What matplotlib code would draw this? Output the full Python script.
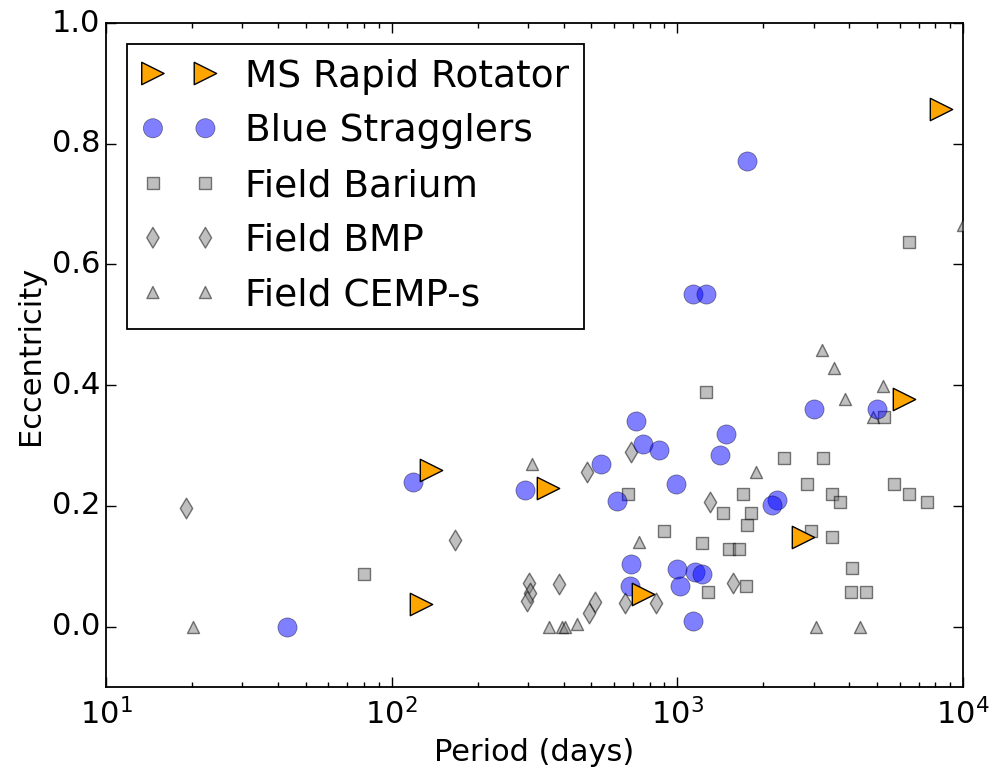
import numpy as np
import matplotlib
matplotlib.use('Agg')
import matplotlib.pyplot as plt

# MS rapid rotators
ms_period = [137, 352, 127, 759, 2760, 6210, 8380]
ms_ecc = [0.26, 0.229, 0.038, 0.055, 0.148, 0.378, 0.857]

# Blue stragglers
bss_period = [43, 119, 293, 540, 615, 716, 758, 862, 989, 688, 682, 997, 1021,
              1134, 1152, 1218, 1134, 1259, 1752, 1479, 1409, 2232, 2143, 3006, 4996]
bss_ecc = [0.0, 0.239, 0.227, 0.269, 0.209, 0.34, 0.302, 0.292, 0.237, 0.104, 0.068,
           0.095, 0.068, 0.01, 0.09, 0.088, 0.551, 0.551, 0.771, 0.32, 0.285, 0.21,
           0.202, 0.361, 0.36]

# Field barium stars
ba_period = [80, 671, 897, 1218, 1259, 1279, 1445, 1516, 1643, 1697, 1752, 1809, 1739,
             2362, 2842, 2935, 3232, 3475, 3707, 3475, 4083, 4053, 4573, 5285, 5728,
             6465, 7474, 6465]
ba_ecc = [0.088, 0.22, 0.158, 0.139, 0.388, 0.058, 0.189, 0.128, 0.128, 0.22, 0.169,
          0.189, 0.068, 0.279, 0.237, 0.158, 0.279, 0.22, 0.207, 0.148, 0.098, 0.058,
          0.058, 0.348, 0.237, 0.22, 0.207, 0.638]

# Field BMP stars
bmp_period = [19.05, 166.5, 302, 306, 298, 385, 490, 515, 483, 688, 656, 841, 1300, 1565]
bmp_ecc = [0.196, 0.144, 0.073, 0.056, 0.043, 0.071, 0.022, 0.041, 0.257, 0.29, 0.04,
           0.04, 0.206, 0.073]

# Field CEMP-s stars
cemp_period = [20.2, 310, 355, 394, 403, 445, 734, 1884, 3055, 4355, 3207, 3532, 3861,
               5243, 4837, 10000]
cemp_ecc = [0.0, 0.27, 0.0, 0.0, 0.0, 0.005, 0.141, 0.257, 0.0, 0.0, 0.458, 0.428,
            0.377, 0.398, 0.347, 0.665]

plt.style.use('classic')
plt.rcParams['figure.facecolor'] = 'white'
plt.rcParams['savefig.facecolor'] = 'white'

fig = plt.figure(figsize=(9.92, 7.72), dpi=100)
ax = fig.add_axes([0.1069, 0.110, 0.8639, 0.8602])

ax.scatter(ms_period, ms_ecc, marker='>', s=260, c='orange', edgecolors='k',
           linewidths=1.0, label='MS Rapid Rotator', zorder=5)
ax.scatter(bss_period, bss_ecc, marker='o', s=190, c='blue', alpha=0.5,
           edgecolors='k', linewidths=0.5, label='Blue Stragglers', zorder=4)
ax.scatter(ba_period, ba_ecc, marker='s', s=75, c='gray', alpha=0.5,
           edgecolors='k', linewidths=1.0, label='Field Barium', zorder=3)
ax.scatter(bmp_period, bmp_ecc, marker='d', s=110, c='gray', alpha=0.5,
           edgecolors='k', linewidths=1.0, label='Field BMP', zorder=3)
ax.scatter(cemp_period, cemp_ecc, marker='^', s=75, c='gray', alpha=0.5,
           edgecolors='k', linewidths=1.0, label='Field CEMP-s', zorder=3)

ax.set_xscale('log')
ax.set_xlim(10, 1e4)
ax.set_ylim(-0.1, 1.0)
ax.set_yticks([0.0, 0.2, 0.4, 0.6, 0.8, 1.0])

ax.set_xlabel('Period (days)', fontsize=22)
ax.set_ylabel('Eccentricity', fontsize=22)
ax.tick_params(axis='both', which='major', labelsize=22, length=7, width=1)
ax.tick_params(axis='both', which='minor', length=3.5, width=1)
ax.tick_params(axis='x', which='major', pad=8)
for sp in ax.spines.values():
    sp.set_linewidth(1.3)

leg = ax.legend(loc='upper left', scatterpoints=2, fontsize=27,
                scatteryoffsets=[0.5], borderaxespad=0.55, handletextpad=0.75)
leg.get_frame().set_linewidth(1.3)

fig.savefig('out.png', dpi=100)
